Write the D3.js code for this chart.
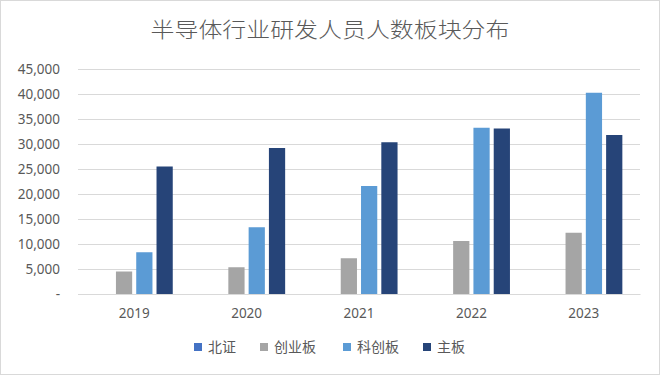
<!DOCTYPE html>
<html>
<head>
<meta charset="utf-8">
<script src="https://cdn.jsdelivr.net/npm/d3@7"></script>
<style>
  html, body { margin: 0; padding: 0; background: #fff; }
  svg { display: block; font-family: "Noto Sans CJK SC", "Noto Sans", sans-serif; }
</style>
</head>
<body>
<div id="chart"></div>
<script>
// 数据
const years = ["2019", "2020", "2021", "2022", "2023"];
const seriesNames = ["北证", "创业板", "科创板", "主板"];
const beizheng = [0, 0, 0, 0, 0];
const chuangye = [4500, 5350, 7150, 10600, 12250];
const kechuang = [8350, 13350, 21600, 33250, 40250];
const zhuban = [25500, 29200, 30350, 33100, 31800];
const yTicks = [0, 5000, 10000, 15000, 20000, 25000, 30000, 35000, 40000, 45000];
const colors = ["#4472C4", "#A5A5A5", "#5B9BD5", "#264478"];

const width = 660, height = 375;
const margin = {top: 69, right: 20, bottom: 81, left: 78};

let rows = years.map((y, i) => ({
    year: y,
    values: [beizheng[i], chuangye[i], kechuang[i], zhuban[i]]
}));

let svg = d3.select("#chart").append("svg")
    .attr("width", width)
    .attr("height", height);

// 外框
svg.append("rect")
    .attr("x", 0.5).attr("y", 0.5)
    .attr("width", width - 1).attr("height", height - 1)
    .attr("fill", "#fff")
    .attr("stroke", "#d9d9d9");

// 标题 (原图横向略拉伸)
svg.append("text")
    .attr("transform", `translate(${width / 2},37) scale(1.14,1)`)
    .attr("text-anchor", "middle")
    .attr("font-size", "21px")
    .attr("font-weight", 300)
    .attr("fill", "#595959")
    .text("半导体行业研发人员人数板块分布");

let x0 = d3.scaleBand()
    .domain(years)
    .range([margin.left, width - margin.right])
    .padding(0);
let x1 = d3.scaleBand()
    .domain(d3.range(seriesNames.length))
    .range([0, x0.bandwidth()])
    .paddingInner(0.2)
    .paddingOuter(0.87);
let y = d3.scaleLinear()
    .domain([0, 45000])
    .range([height - margin.bottom, margin.top]);

// 网格线
let yAxis = svg.append("g")
    .attr("transform", `translate(${margin.left},0)`)
    .call(d3.axisLeft(y)
        .tickValues(yTicks)
        .tickSize(-(width - margin.left - margin.right))
        .tickPadding(18)
        .tickFormat(d => d === 0 ? "-" : d3.format(",")(d)));
yAxis.select(".domain").remove();
yAxis.selectAll(".tick line").attr("stroke", "#d9d9d9");
yAxis.selectAll(".tick text")
    .attr("fill", "#595959")
    .attr("font-size", "13.5px")
    .attr("font-family", "'Noto Sans', sans-serif");

let groups = svg.append("g").selectAll("g")
    .data(rows)
    .join("g")
    .attr("transform", d => `translate(${x0(d.year)},0)`);
groups.selectAll("rect")
    .data(d => d.values.map((v, i) => ({i: i, v: v})))
    .join("rect")
    .attr("x", d => x1(d.i))
    .attr("y", d => y(d.v))
    .attr("width", x1.bandwidth())
    .attr("height", d => y(0) - y(d.v))
    .attr("fill", d => colors[d.i]);

let xAxis = svg.append("g")
    .attr("transform", `translate(0,${y(0)})`)
    .call(d3.axisBottom(x0).tickSize(0).tickPadding(14));
xAxis.select(".domain").attr("stroke", "#d9d9d9");
xAxis.selectAll(".tick text")
    .attr("fill", "#595959")
    .attr("font-size", "13.5px")
    .attr("font-family", "'Noto Sans', sans-serif");

// 图例
const legendX = [194, 260, 343, 423];
let legend = svg.append("g").selectAll("g")
    .data(seriesNames)
    .join("g")
    .attr("transform", (d, i) => `translate(${legendX[i]},347)`);
legend.append("rect")
    .attr("x", 0).attr("y", -4)
    .attr("width", 8).attr("height", 8)
    .attr("fill", (d, i) => colors[i]);
legend.append("text")
    .attr("x", 14)
    .attr("y", 0)
    .attr("dy", "0.35em")
    .attr("font-size", "14px")
    .attr("fill", "#595959")
    .text(d => d);
</script>
</body>
</html>
